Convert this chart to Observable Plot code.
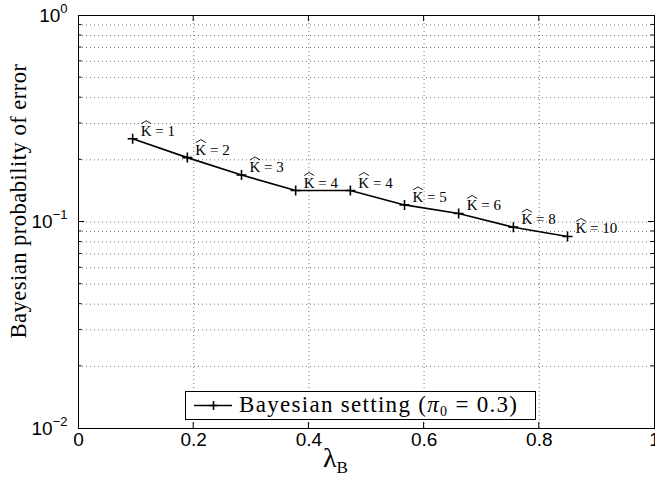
<!DOCTYPE html>
<html><head><meta charset="utf-8">
<script src="https://cdn.jsdelivr.net/npm/d3@7"></script>
<script src="https://cdn.jsdelivr.net/npm/@observablehq/plot@0.6"></script>
<style>body{margin:0;background:#fff} svg{display:block;background:#fff}</style>
</head><body><div id="chart"></div>
<script>
// ---- data ----
const lambdaB   = [0.094, 0.189, 0.283, 0.377, 0.472, 0.566, 0.660, 0.755, 0.849];
const errorProb = [0.253, 0.205, 0.169, 0.142, 0.142, 0.121, 0.110, 0.0944, 0.0851];
const kHat      = [1, 2, 3, 4, 4, 5, 6, 8, 10];
const xTicks    = [0, 0.2, 0.4, 0.6, 0.8, 1];
const xTickLabels = ["0", "0.2", "0.4", "0.6", "0.8", "1"];
const yMajorTicks = [1, 0.1, 0.01];
const yTickExponents = ["0", "\u22121", "\u22122"];
const yMinorTicks = [0.02,0.03,0.04,0.05,0.06,0.07,0.08,0.09,0.2,0.3,0.4,0.5,0.6,0.7,0.8,0.9];
const yTitle = "Bayesian probability of error";
const xTitleMain = "\u03bb", xTitleSub = "B";
const legendText = ["Bayesian setting (", "\u03c0", "0", " = 0.3)"];

const data = lambdaB.map((x, i) => ({x, y: errorProb[i], k: kHat[i]}));
const xGrid = xTicks.slice(1, -1);
const yGrid = yMinorTicks.concat([0.1]);

const plusSymbol = {
  draw(ctx, size) {
    const r = Math.sqrt(size / Math.PI);
    ctx.moveTo(-r, 0); ctx.lineTo(r, 0);
    ctx.moveTo(0, -r); ctx.lineTo(0, r);
  }
};

const serif = "'Liberation Serif', 'Times New Roman', serif";
const sans = "'Liberation Sans', Arial, Helvetica, sans-serif";

const plot = Plot.plot({
  width: 655, height: 480,
  marginLeft: 78, marginRight: 1, marginTop: 15, marginBottom: 52,
  style: {background: "#fff"},
  x: {domain: [0, 1]},
  y: {type: "log", domain: [0.01, 1]},
  marks: [
    Plot.gridX(xGrid, {stroke: "#777", strokeOpacity: 1, strokeDasharray: "1 3", strokeWidth: 1}),
    Plot.gridY(yGrid, {stroke: "#777", strokeOpacity: 1, strokeDasharray: "1 3", strokeWidth: 1}),
    Plot.axisX(xTicks, {tickSize: 0, tickPadding: 4, fontSize: 19, fontFamily: sans, fill: "#000",
      tickFormat: d => xTickLabels[xTicks.indexOf(d)], label: null}),
    Plot.axisY(yMajorTicks, {tickSize: 0, tickPadding: 11, fontSize: 19, fontFamily: sans, fill: "#000",
      tickFormat: d => "10", label: null}),
    Plot.line(data, {x: "x", y: "y", stroke: "#000", strokeWidth: 1.6}),
    Plot.dot(data, {x: "x", y: "y", symbol: plusSymbol, r: 5, fill: "none", stroke: "#000", strokeWidth: 1.6}),
    Plot.text(data, {x: "x", y: "y", text: d => "K = " + d.k, dx: 8, dy: -3, textAnchor: "start",
      lineAnchor: "bottom", fontSize: 15, fontFamily: serif, fill: "#000", ariaLabel: "klabels"}),
    Plot.frame({stroke: "#000", strokeWidth: 1})
  ]
});

document.getElementById("chart").appendChild(plot);

const svg = d3.select(plot);
const sx = plot.scale("x"), sy = plot.scale("y");
const X0 = sx.apply(0), X1 = sx.apply(1), Y0 = sy.apply(0.01), Y1 = sy.apply(1);

// superscripts on y tick labels
svg.selectAll('g[aria-label="y-axis tick label"] text').each(function(d, i) {
  const t = d3.select(this);
  t.text("10");
  t.append("tspan").attr("dy", "-9").attr("font-size", 13).text(yTickExponents[i]);
});

// K-hat labels: italic K with a wide hat
svg.selectAll('g[aria-label="klabels"] text').each(function() {
  const t = d3.select(this);
  const s = t.text().replace(/^K/, "");
  t.text("").attr("letter-spacing", 0.4);
  t.append("tspan").attr("font-style", "italic").text("K");
  t.append("tspan").text(s);
});
const hats = svg.append("g").attr("fill", "none").attr("stroke", "#000").attr("stroke-width", 0.9);
for (const d of data) {
  const x = sx.apply(d.x), y = sy.apply(d.y);
  hats.append("path").attr("d", `M${x + 9},${y - 14.5}L${x + 14},${y - 17.5}L${x + 19},${y - 14.5}`);
}

// inward ticks
const g = svg.append("g").attr("stroke", "#000").attr("stroke-width", 1);
for (const v of [0.1]) {
  const y = sy.apply(v);
  g.append("line").attr("x1", X0).attr("x2", X0 + 6).attr("y1", y).attr("y2", y);
  g.append("line").attr("x1", X1).attr("x2", X1 - 6).attr("y1", y).attr("y2", y);
}
for (const v of yMinorTicks) {
  const y = sy.apply(v);
  g.append("line").attr("x1", X0).attr("x2", X0 + 3.5).attr("y1", y).attr("y2", y);
  g.append("line").attr("x1", X1).attr("x2", X1 - 3.5).attr("y1", y).attr("y2", y);
}
for (const v of xGrid) {
  const x = sx.apply(v);
  g.append("line").attr("x1", x).attr("x2", x).attr("y1", Y0).attr("y2", Y0 - 6);
  g.append("line").attr("x1", x).attr("x2", x).attr("y1", Y1).attr("y2", Y1 + 6);
}

// y title
svg.append("text")
  .attr("transform", `translate(26,201) rotate(-90)`)
  .attr("text-anchor", "middle").attr("letter-spacing", 0.5)
  .attr("font-family", serif).attr("font-size", 22.5).attr("fill", "#000")
  .text(yTitle);

// x title
const xt = svg.append("text")
  .attr("x", 323).attr("y", 466.5)
  .attr("text-anchor", "start")
  .attr("font-family", serif).attr("font-size", 28).attr("fill", "#000");
xt.append("tspan").text(xTitleMain);
xt.append("tspan").attr("font-size", 17).attr("dy", 6).text(xTitleSub);

// legend
const lg = svg.append("g");
lg.append("rect").attr("x", 185.5).attr("y", 391.5).attr("width", 350).attr("height", 28)
  .attr("fill", "#fff").attr("stroke", "#000").attr("stroke-width", 1);
lg.append("line").attr("x1", 194).attr("x2", 232).attr("y1", 405.5).attr("y2", 405.5)
  .attr("stroke", "#000").attr("stroke-width", 1.6);
lg.append("path").attr("d", "M209,405.5h9M213.5,401v9").attr("stroke", "#000").attr("stroke-width", 1.6);
const lt = lg.append("text").attr("x", 239).attr("y", 411.7).attr("text-anchor", "start")
  .attr("letter-spacing", 1.3)
  .attr("font-family", serif).attr("font-size", 23).attr("fill", "#000");
lt.append("tspan").text(legendText[0]);
lt.append("tspan").attr("font-style", "italic").text(legendText[1]);
lt.append("tspan").attr("font-size", 14).attr("dy", 4).text(legendText[2]);
lt.append("tspan").attr("dy", -4).text(legendText[3]);
</script>
</body></html>
